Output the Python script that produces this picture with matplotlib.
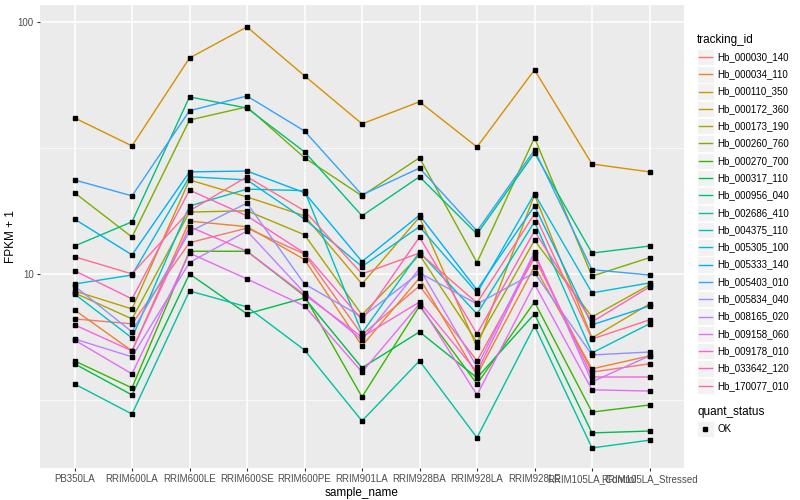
import matplotlib
matplotlib.use("Agg")
import matplotlib.pyplot as plt
import numpy as np
from matplotlib.ticker import FixedLocator, NullFormatter
from matplotlib.patches import Rectangle
from matplotlib.lines import Line2D

plt.rcParams['font.family'] = ['Liberation Sans', 'DejaVu Sans']

samples = ['PB350LA', 'RRIM600LA', 'RRIM600LE', 'RRIM600SE', 'RRIM600PE', 'RRIM901LA',
           'RRIM928BA', 'RRIM928LA', 'RRIM928LE', 'RRIM105LA_Control', 'RRIM105LA_Stressed']

tracking_ids = ['Hb_000030_140', 'Hb_000034_110', 'Hb_000110_350', 'Hb_000172_360',
                'Hb_000173_190', 'Hb_000260_760', 'Hb_000270_700', 'Hb_000317_110',
                'Hb_000956_040', 'Hb_002686_410', 'Hb_004375_110', 'Hb_005305_100',
                'Hb_005333_140', 'Hb_005403_010', 'Hb_005834_040', 'Hb_008165_020',
                'Hb_009158_060', 'Hb_009178_010', 'Hb_033642_120', 'Hb_170077_010']

# FPKM + 1 per gene, one value per sample
fpkm = {
    'Hb_000030_140': [6.63, 6.34, 13.3, 15.2, 12.0, 5.73, 8.96, 4.52, 11.6, 4.08, 4.40],
    'Hb_000034_110': [7.20, 4.95, 16.2, 15.4, 11.4, 5.18, 9.64, 3.97, 10.7, 4.20, 4.73],
    'Hb_000110_350': [41.6, 32.2, 71.9, 95.5, 61.1, 39.4, 48.2, 31.9, 64.5, 27.3, 25.4],
    'Hb_000172_360': [8.56, 7.26, 23.6, 20.2, 17.0, 9.12, 16.8, 5.13, 20.6, 5.57, 7.60],
    'Hb_000173_190': [8.41, 6.63, 17.6, 17.8, 14.3, 6.88, 11.9, 5.37, 13.6, 6.75, 9.04],
    'Hb_000260_760': [21.0, 14.0, 40.8, 46.0, 28.9, 20.4, 28.9, 11.1, 34.7, 9.8, 11.6],
    'Hb_000270_700': [4.52, 3.53, 12.3, 12.3, 8.18, 3.25, 7.46, 3.66, 7.74, 2.83, 3.02],
    'Hb_000317_110': [4.40, 3.31, 10.0, 6.94, 8.03, 4.24, 5.89, 3.87, 6.94, 2.34, 2.38],
    'Hb_000956_040': [12.9, 16.1, 50.4, 45.5, 30.5, 17.0, 24.3, 14.4, 30.2, 12.1, 12.9],
    'Hb_002686_410': [3.66, 2.78, 8.56, 7.40, 4.99, 2.61, 4.52, 2.24, 6.22, 2.04, 2.19],
    'Hb_004375_110': [8.33, 5.57, 18.6, 21.7, 21.4, 5.83, 12.2, 6.94, 16.1, 4.86, 6.34],
    'Hb_005305_100': [9.12, 9.9, 24.3, 23.6, 16.5, 10.7, 15.4, 8.41, 20.8, 8.41, 9.21],
    'Hb_005333_140': [16.5, 11.9, 25.4, 25.6, 21.0, 11.2, 17.1, 8.64, 18.6, 6.28, 7.46],
    'Hb_005403_010': [23.6, 20.4, 44.4, 50.8, 36.9, 20.6, 26.3, 14.8, 31.0, 10.4, 9.9],
    'Hb_005834_040': [8.96, 5.89, 14.7, 19.1, 9.12, 6.75, 10.1, 7.60, 10.1, 4.77, 4.90],
    'Hb_008165_020': [5.52, 4.69, 11.1, 14.8, 8.41, 5.47, 10.5, 4.28, 12.2, 3.73, 4.73],
    'Hb_009158_060': [5.47, 4.01, 12.1, 9.55, 7.46, 4.08, 7.60, 3.31, 9.12, 3.47, 3.43],
    'Hb_009178_010': [6.28, 4.95, 15.4, 12.3, 8.26, 5.62, 7.74, 4.08, 12.0, 3.90, 3.90],
    'Hb_033642_120': [10.3, 7.96, 21.5, 17.0, 12.1, 6.57, 14.0, 5.78, 14.8, 6.45, 8.88],
    'Hb_170077_010': [11.7, 10.0, 17.8, 24.3, 17.8, 10.0, 12.1, 7.67, 17.3, 5.52, 6.57],
}

# ggplot2 default hue palette for 20 groups
colors = ['#F8766D', '#EA8331', '#D89000', '#C09B00', '#A3A500', '#7CAE00', '#39B600',
          '#00BB4E', '#00BF7D', '#00C1A3', '#00BFC4', '#00BAE0', '#00B0F6', '#35A2FF',
          '#9590FF', '#C77CFF', '#E76BF3', '#FA62DB', '#FF62BC', '#FF6C91']

fig = plt.figure(figsize=(8, 5), dpi=100)
ax = fig.add_axes([0.05, 0.064, 0.805, 0.926])
ax.set_facecolor('#EBEBEB')

x = np.arange(1, len(samples) + 1)
for tid, c in zip(tracking_ids, colors):
    ax.plot(x, fpkm[tid], color=c, lw=1.0, zorder=3)
for tid in tracking_ids:
    ax.plot(x, fpkm[tid], linestyle='none', marker='s', ms=3.3, color='black', zorder=4)

ax.set_yscale('log')
ax.set_ylim(10 ** 0.23, 10 ** 2.067)
ax.set_xlim(0.4, len(samples) + 0.6)
ax.yaxis.set_major_locator(FixedLocator([10, 100]))
ax.yaxis.set_minor_locator(FixedLocator([10 ** 0.5, 10 ** 1.5]))
ax.yaxis.set_minor_formatter(NullFormatter())
ax.set_yticks([10, 100])
ax.set_yticklabels(['10', '100'])
ax.set_xticks(x)
ax.set_xticklabels(samples)

ax.grid(True, which='major', color='white', lw=1.1, zorder=0)
ax.grid(True, which='minor', axis='y', color='white', lw=0.5, zorder=0)
ax.set_axisbelow(True)
for s in ax.spines.values():
    s.set_visible(False)
ax.tick_params(axis='both', which='major', length=2.5, color='#333333', labelsize=7,
               labelcolor='#4D4D4D', pad=2)
ax.tick_params(axis='y', which='minor', length=0)

ax.set_xlabel('sample_name', fontsize=8.5, labelpad=2)
ax.set_ylabel('FPKM + 1', fontsize=8.5)
ax.yaxis.set_label_coords(-0.036, 0.5)

# legends drawn by hand, ggplot style
def fx(px):
    return px / 800.0

def fy(py):
    return 1 - py / 500.0

fig.text(fx(697), fy(40), 'tracking_id', fontsize=8.5, va='center', ha='left')
step = 17.3
for i, (tid, c) in enumerate(zip(tracking_ids, colors)):
    yc = 57 + i * step
    fig.patches.append(Rectangle((fx(697), fy(yc + 8.2)), fx(16.5), 16.4 / 500.0,
                                 transform=fig.transFigure, facecolor='#F2F2F2',
                                 edgecolor='white', lw=0.6))
    fig.lines.append(Line2D([fx(698.5), fx(711.5)], [fy(yc), fy(yc)], color=c, lw=1.0,
                            transform=fig.transFigure))
    fig.text(fx(717), fy(yc), tid, fontsize=7, va='center', ha='left')

fig.text(fx(697), fy(412), 'quant_status', fontsize=8.5, va='center', ha='left')
yc = 429
fig.patches.append(Rectangle((fx(697), fy(yc + 8.2)), fx(16.5), 16.4 / 500.0,
                             transform=fig.transFigure, facecolor='#F2F2F2',
                             edgecolor='white', lw=0.6))
fig.lines.append(Line2D([fx(705)], [fy(yc)], marker='s', ms=3.3, color='black',
                        linestyle='none', transform=fig.transFigure))
fig.text(fx(717), fy(yc), 'OK', fontsize=7, va='center', ha='left')

fig.savefig('out.png', dpi=100)
